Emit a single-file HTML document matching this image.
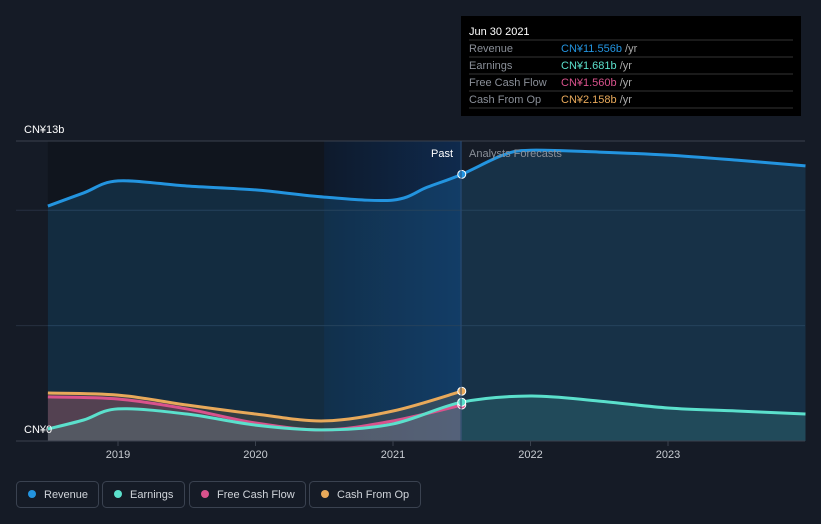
<!DOCTYPE html>
<html><head><meta charset="utf-8"><style>
body{margin:0;background:#151b26;font-family:"Liberation Sans",sans-serif;}
svg{display:block}
</style></head><body>
<svg width="821" height="524">
<defs>
<linearGradient id="pastHl" x1="0" x2="1" y1="0" y2="0"><stop offset="0" stop-color="#0e1a2c"/><stop offset="1" stop-color="#0f2a4d"/></linearGradient>
</defs>
<rect x="0" y="0" width="821" height="524" fill="#151b26"/>
<g id="bg"></g>
<g id="grid"></g>
<g id="areas"></g>
<g id="lines"></g>
<g id="dots"></g>
<g id="axes"></g>
<line x1="461" y1="141" x2="461" y2="441" stroke="#2c4a70" stroke-width="1"/>
<text x="453" y="157" fill="#ffffff" font-size="11" text-anchor="end">Past</text>
<text x="469" y="157" fill="#8a9099" font-size="11">Analysts Forecasts</text>
<g>
<rect x="461" y="16" width="340" height="100" fill="#000000"/>
<text x="469" y="35" fill="#fff" font-size="11">Jun 30 2021</text>
<line x1="469" y1="40" x2="793" y2="40" stroke="#333"/>
<text x="469" y="52" fill="#8a8f98" font-size="11">Revenue</text><text x="561" y="52" font-size="11" fill="#2394df">CN¥11.556b <tspan fill="#aaa">/yr</tspan></text>
<line x1="469" y1="57" x2="793" y2="57" stroke="#333"/>
<text x="469" y="69" fill="#8a8f98" font-size="11">Earnings</text><text x="561" y="69" font-size="11" fill="#5be0cc">CN¥1.681b <tspan fill="#aaa">/yr</tspan></text>
<line x1="469" y1="74" x2="793" y2="74" stroke="#333"/>
<text x="469" y="86" fill="#8a8f98" font-size="11">Free Cash Flow</text><text x="561" y="86" font-size="11" fill="#d9528c">CN¥1.560b <tspan fill="#aaa">/yr</tspan></text>
<line x1="469" y1="91" x2="793" y2="91" stroke="#333"/>
<text x="469" y="103" fill="#8a8f98" font-size="11">Cash From Op</text><text x="561" y="103" font-size="11" fill="#e8a95a">CN¥2.158b <tspan fill="#aaa">/yr</tspan></text>
<line x1="469" y1="108" x2="793" y2="108" stroke="#333"/>
</g>
<text x="24" y="133" fill="#fff" font-size="11">CN¥13b</text>
<text x="24" y="433" fill="#fff" font-size="11">CN¥0</text>
<g>
<g><rect x="16.5" y="481.5" width="82" height="26" rx="4" fill="none" stroke="#3a4250"/><circle cx="32" cy="494" r="4" fill="#2394df"/><text x="44" y="498" fill="#d0d4da" font-size="11">Revenue</text></g>
<g><rect x="102.5" y="481.5" width="82" height="26" rx="4" fill="none" stroke="#3a4250"/><circle cx="118" cy="494" r="4" fill="#5be0cc"/><text x="130" y="498" fill="#d0d4da" font-size="11">Earnings</text></g>
<g><rect x="189.5" y="481.5" width="116" height="26" rx="4" fill="none" stroke="#3a4250"/><circle cx="205" cy="494" r="4" fill="#d9528c"/><text x="217" y="498" fill="#d0d4da" font-size="11">Free Cash Flow</text></g>
<g><rect x="309.5" y="481.5" width="111" height="26" rx="4" fill="none" stroke="#3a4250"/><circle cx="325" cy="494" r="4" fill="#e8a95a"/><text x="337" y="498" fill="#d0d4da" font-size="11">Cash From Op</text></g>
</g>
</svg>
<script>
const years=[2019,2020,2021,2022,2023];
const revT=[2018.49,2018.75,2019,2019.5,2020,2020.5,2021,2021.25,2021.5,2021.8,2022,2022.5,2023,2023.5,2024.0];
const revV=[10.18,10.75,11.27,11.05,10.88,10.57,10.44,11.0,11.556,12.39,12.6,12.52,12.39,12.17,11.92];
const earnT=[2018.49,2018.75,2019,2019.5,2020,2020.5,2021,2021.5,2022,2022.5,2023,2023.5,2024.0];
const earnV=[0.52,0.91,1.39,1.17,0.69,0.48,0.74,1.681,1.95,1.73,1.43,1.30,1.17];
const fcfT=[2018.49,2019,2019.5,2020,2020.5,2021,2021.5];
const fcfV=[1.91,1.82,1.39,0.78,0.48,0.87,1.56];
const cfoT=[2018.49,2019,2019.5,2020,2020.5,2021,2021.5];
const cfoV=[2.08,1.99,1.56,1.17,0.87,1.30,2.158];
const gridV=[5,10,13];
const NS="http://www.w3.org/2000/svg";
const X=t=>118+(t-2019)*137.5;
const Y=v=>441-v*300/13;
function mk(tag,attrs,parent){const e=document.createElementNS(NS,tag);for(const k in attrs)e.setAttribute(k,attrs[k]);document.getElementById(parent).appendChild(e);return e;}
function path(T,V){const P=T.map((t,i)=>[X(t),Y(V[i])]);let d="M"+P[0][0]+","+P[0][1];
for(let i=0;i<P.length-1;i++){const p0=P[Math.max(0,i-1)],p1=P[i],p2=P[i+1],p3=P[Math.min(P.length-1,i+2)];
const c1=[p1[0]+(p2[0]-p0[0])/6,p1[1]+(p2[1]-p0[1])/6],c2=[p2[0]-(p3[0]-p1[0])/6,p2[1]-(p3[1]-p1[1])/6];
d+=" C"+c1[0]+","+c1[1]+" "+c2[0]+","+c2[1]+" "+p2[0]+","+p2[1];}return d;}
let b=mk("rect",{x:X(2018.49),y:141,width:X(2020.5)-X(2018.49),height:300,fill:"#10151e"},"bg");

b=mk("rect",{x:X(2020.5),y:141,width:X(2021.5)-X(2020.5),height:300,fill:"url(#pastHl)"},"bg");

gridV.forEach(v=>{const l=mk("line",{x1:16,x2:805,y1:Y(v),y2:Y(v),stroke:v==13?"#3a414d":"#263040","stroke-width":1},"grid");
});
const ax=mk("line",{x1:16,x2:805,y1:441,y2:441,stroke:"#3a414d"},"axes");

years.forEach(y=>{mk("line",{x1:X(y),x2:X(y),y1:441,y2:446,stroke:"#3a414d"},"axes");
const t=mk("text",{x:X(y),y:458,fill:"#c8ccd2","font-size":11,"text-anchor":"middle"},"axes");t.textContent=y;
});
const series=[[revT,revV,"#2394df","rgba(35,148,223,0.18)","revenue"],[cfoT,cfoV,"#e8a95a","rgba(232,169,90,0.15)","cash-from-op"],[fcfT,fcfV,"#d9528c","rgba(217,82,140,0.2)","free-cash-flow"],[earnT,earnV,"#5be0cc","rgba(91,224,204,0.15)","earnings"]];
series.forEach(([T,V,c,f,n])=>{const d=path(T,V);
const a=mk("path",{d:d+" L"+X(T[T.length-1])+",441 L"+X(T[0])+",441 Z",fill:f},"areas");

const l=mk("path",{d:d,fill:"none",stroke:c,"stroke-width":3},"lines");

const i=T.indexOf(2021.5);
const dt=mk("circle",{cx:X(T[i]),cy:Y(V[i]),r:4,fill:c,stroke:"#fff","stroke-width":1},"dots");
});
</script>
</body></html>
